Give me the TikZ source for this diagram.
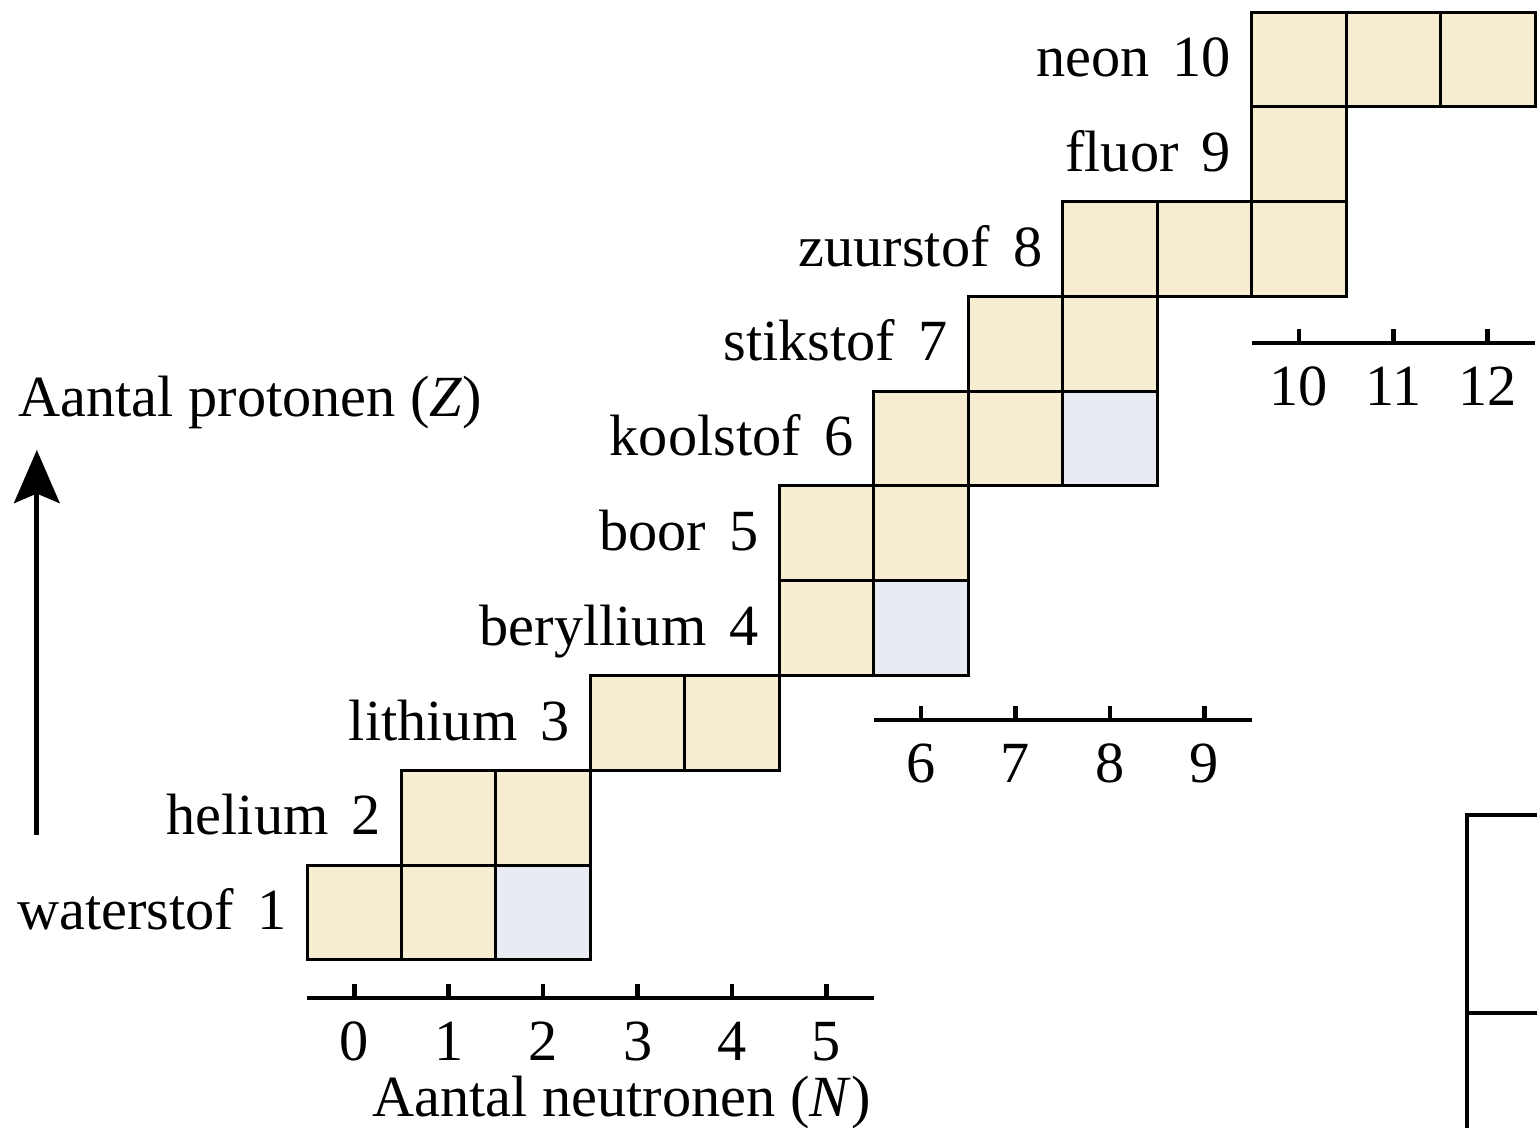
\documentclass[tikz,border=0pt]{standalone}
\usepackage{fontspec}
\setmainfont{Liberation Serif}
\usepackage{xcolor}
\usetikzlibrary{arrows.meta}

\definecolor{cream}{HTML}{F7EDD3}
\definecolor{paleblue}{HTML}{E8ECF2}

\begin{document}
\begin{tikzpicture}[x=0.9965cm, y=1cm, >=Stealth, font=\fontsize{17.5}{20}\selectfont]
    \tikzset{
        cellbox/.style={draw, line width=0.9pt, fill=cream},
        isobox/.style={draw, line width=0.9pt, fill=paleblue},
        axisline/.style={line width=1.4pt},
        rowlabel/.style={anchor=base east, inner sep=0pt},
        ticklabel/.style={inner sep=0pt}
    }
    \useasboundingbox (-3.25,-1.772) rectangle (13.021,10.127);

    % Cells (N,Z)
    \foreach \n/\z in {0/1, 1/1, 1/2, 2/2, 3/3, 4/3, 5/4, 5/5, 6/5,
                       6/6, 7/6, 7/7, 8/7, 8/8, 9/8, 10/8, 10/9,
                       10/10, 11/10, 12/10}
        \draw [cellbox] (\n,\z-1) rectangle ++(1,1);
    \foreach \n/\z in {2/1, 6/4, 8/6}
        \draw [isobox] (\n,\z-1) rectangle ++(1,1);

    % Element names
    \foreach \n/\z/\name in {0/1/waterstof, 1/2/helium, 3/3/lithium, 5/4/beryllium,
                             5/5/boor, 6/6/koolstof, 7/7/stikstof, 8/8/zuurstof,
                             10/9/fluor, 10/10/neon}
        \node [rowlabel] (lbl\z) at (\n-0.21,\z-0.68) {\name\hspace{0.4em}\z};

    % Neutron axes
    \draw [axisline] (0,-0.4) -- (6,-0.4);
    \foreach \n in {0,...,5} {
        \draw [axisline] (\n+0.5,-0.4) -- ++(0,0.15);
        \node [ticklabel] (tickN\n) at (\n+0.5,-0.86) {\n};
    }
    \draw [axisline] (6,2.53) -- (10,2.53);
    \foreach \n in {6,...,9} {
        \draw [axisline] (\n+0.5,2.53) -- ++(0,0.15);
        \node [ticklabel] (tickN\n) at (\n+0.5,2.07) {\n};
    }
    \draw [axisline] (10,6.51) -- (13,6.51);
    \foreach \n in {10,11,12} {
        \draw [axisline] (\n+0.5,6.51) -- ++(0,0.15);
        \node [ticklabel] (tickN\n) at (\n+0.5,6.05) {\n};
    }
    \node (xlabel) at (3.33,-1.5) {Aantal neutronen (\textit{N})};

    % Proton axis
    \node [anchor=west, inner sep=0pt] (ylabel) at (-3.06,5.88) {Aantal protonen (\textit{Z})};
    \draw [line width=1.5pt, -{Stealth[length=5.6mm, width=4.8mm, inset=1mm]}] (-2.86,1.32) -- (-2.86,5.38);

    % Corner of next table
    \draw [line width=1.2pt] (13.1,1.53) -- (12.28,1.53) -- (12.28,-1.9);
    \draw [line width=1.2pt] (12.28,-0.56) -- (13.1,-0.56);
\end{tikzpicture}
\end{document}
